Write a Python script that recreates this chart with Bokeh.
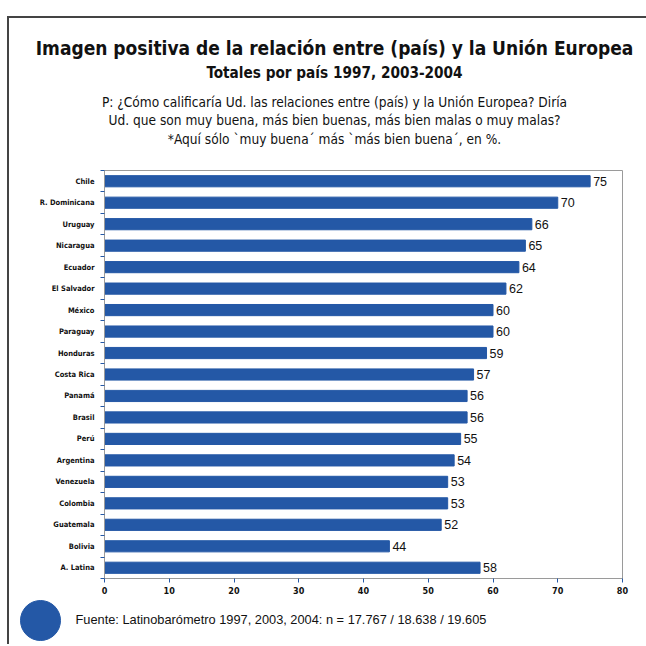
from bokeh.plotting import figure
from bokeh.models import Label, FixedTicker, ColumnDataSource, Range1d
from bokeh.layouts import column
from bokeh.core.properties import value
from bokeh.embed import file_html
from bokeh.resources import INLINE

countries = ["Chile", "R. Dominicana", "Uruguay", "Nicaragua", "Ecuador", "El Salvador",
             "México", "Paraguay", "Honduras", "Costa Rica", "Panamá", "Brasil", "Perú",
             "Argentina", "Venezuela", "Colombia", "Guatemala", "Bolivia", "A. Latina"]
values = [75, 70, 66, 65, 64, 62, 60, 60, 59, 57, 56, 56, 55, 54, 53, 53, 52, 44, 58]
x_ticks = [0, 10, 20, 30, 40, 50, 60, 70, 80]

title = "Imagen positiva de la relación entre (país) y la Unión Europea"
subtitle = "Totales por país 1997, 2003-2004"
question = ["P: ¿Cómo calificaría Ud. las relaciones entre (país) y la Unión Europea? Diría",
            "Ud. que son muy buena, más bien buenas, más bien malas o muy malas?",
            "*Aquí sólo `muy buena´ más `más bien buena´, en %."]
source_note = "Fuente: Latinobarómetro 1997, 2003, 2004: n = 17.767 / 18.638 / 19.605"

COND = "DejaVu Sans Condensed"
BLUE = "#2458a6"
GREY = "#9a9a9a"
INK = "#111111"

# page geometry (image pixels): content origin inside the outer border
OX, OY = 9, 18
W0 = 637
HEAD_H = 150            # 18 .. 168
MAIN_H = 430            # 168 .. 598
FOOT_H = 46             # 598 .. 644


def no_align(f):
    try:
        f.frame_align = False
    except Exception:
        pass


def blank(height, y0):
    f = figure(width=W0, height=height, output_backend="svg", toolbar_location=None,
               x_range=Range1d(OX, OX + W0), y_range=Range1d(y0 + height, y0),
               x_axis_location=None, y_axis_location=None, min_border=0)
    f.outline_line_color = None
    f.grid.visible = False
    f.background_fill_color = "white"
    f.border_fill_color = "white"
    no_align(f)
    return f


def put(f, txt, X, Y, size, style="normal", font=COND, align="center", color=INK):
    f.add_layout(Label(x=X, y=Y, text=txt, text_align=align, text_baseline="middle",
                       text_font=font, text_font_size=size, text_font_style=style,
                       text_color=color))


# ---- header
head = blank(HEAD_H, OY)
put(head, title, 334, 47, "19px", "bold")
put(head, subtitle, 334, 72, "15.2px", "bold")
for q, yq in zip(question, [101, 119, 138]):
    put(head, q, 334, yq, "13.6px")

# ---- main chart
n = len(countries)
ypos = [n - 0.5 - i for i in range(n)]
src = ColumnDataSource(dict(y=ypos, v=values, lab=[str(v) for v in values]))

p = figure(width=W0, height=MAIN_H, output_backend="svg", toolbar_location=None,
           x_range=Range1d(0, 80), y_range=Range1d(0, n),
           min_border_left=104 - OX, min_border_right=W0 - (622 - OX),
           min_border_top=2, min_border_bottom=MAIN_H - 2 - 408)
no_align(p)
p.background_fill_color = "white"
p.border_fill_color = "white"
p.outline_line_color = GREY
p.outline_line_width = 1
p.grid.visible = False

p.hbar(y="y", right="v", left=0, height=0.52, source=src, fill_color=BLUE, line_color=BLUE)
p.text(x="v", y="y", text="lab", source=src, x_offset=3, text_baseline="middle",
       text_font=value("Liberation Sans"), text_font_size="12.5px", text_color=INK)

p.xaxis.ticker = FixedTicker(ticks=x_ticks)
p.xaxis.axis_line_color = GREY
p.xaxis.major_tick_line_color = BLUE
p.xaxis.major_tick_out = 4
p.xaxis.major_tick_in = 0
p.xaxis.minor_tick_line_color = None
p.xaxis.major_label_text_font = COND
p.xaxis.major_label_text_font_style = "bold"
p.xaxis.major_label_text_font_size = "9px"
p.xaxis.major_label_text_color = INK
p.xaxis.major_label_standoff = 4

p.yaxis.ticker = FixedTicker(ticks=ypos, minor_ticks=list(range(n + 1)))
p.yaxis.major_label_overrides = {float(y): c for y, c in zip(ypos, countries)}
p.yaxis.axis_line_color = GREY
p.yaxis.major_tick_line_color = None
p.yaxis.major_tick_out = 0
p.yaxis.minor_tick_line_color = BLUE
p.yaxis.minor_tick_out = 4
p.yaxis.minor_tick_in = 0
p.yaxis.major_label_text_font = COND
p.yaxis.major_label_text_font_style = "bold"
p.yaxis.major_label_text_font_size = "7.5px"
p.yaxis.major_label_text_color = INK
p.yaxis.major_label_standoff = 6

# ---- footer
foot = blank(FOOT_H, OY + HEAD_H + MAIN_H)
foot.scatter(x=[40], y=[620], size=40, marker="circle", fill_color=BLUE, line_color=BLUE)
put(foot, source_note, 75, 619, "12.8px", font="Liberation Sans", align="left")

layout = column(head, p, foot, spacing=0, margin=(16, 0, 0, 7),
                styles={"border-top": "2px solid #444444", "border-left": "2px solid #444444"})

open("out.html", "w").write(file_html(layout, INLINE))
